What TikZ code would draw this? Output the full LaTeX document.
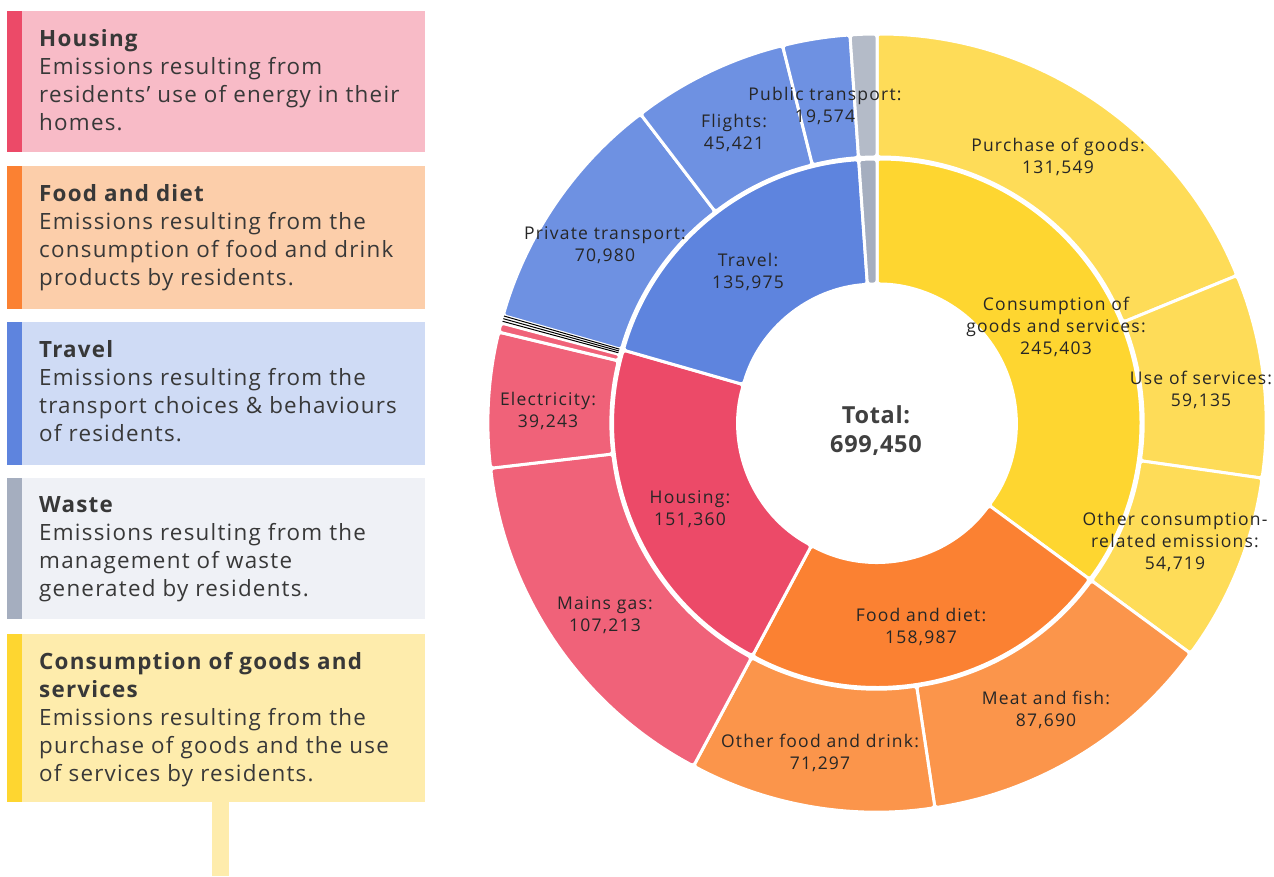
\documentclass[tikz,border=0pt]{standalone}
\usepackage{fontspec}
\setmainfont{Open Sans}[LetterSpace=5.5]
\newfontfamily\lblfont{Open Sans}[LetterSpace=7]
\newfontfamily\totfont{Open Sans}[LetterSpace=3]
\definecolor{hsgIn}{HTML}{EC4A68}\definecolor{hsgOut}{HTML}{F06279}\definecolor{hsgBg}{HTML}{F8BBC7}
\definecolor{fodIn}{HTML}{FB8132}\definecolor{fodOut}{HTML}{FB954B}\definecolor{fodBg}{HTML}{FCCEAA}
\definecolor{trvIn}{HTML}{5E84DE}\definecolor{trvOut}{HTML}{6E91E2}\definecolor{trvBg}{HTML}{CFDBF5}
\definecolor{wstIn}{HTML}{A5AEBF}\definecolor{wstOut}{HTML}{B4BBC8}\definecolor{wstBg}{HTML}{EFF1F6}
\definecolor{conIn}{HTML}{FED630}\definecolor{conOut}{HTML}{FEDC58}\definecolor{conBg}{HTML}{FEECAC}
\begin{document}
\begin{tikzpicture}[x=1pt,y=-1pt,
seg/.style={draw=white,line width=3pt,rounded corners=3pt},
lbl/.style={font=\lblfont\fontsize{17.5}{22}\selectfont,align=center,text=black!85,inner sep=0pt},
lgd/.style={anchor=north west,align=left,inner sep=0pt,font=\fontsize{22.4}{28}\selectfont,text=black!78}]
\useasboundingbox(0,0)rectangle(1274,876);
% legend
\fill[hsgBg](7,11)rectangle(425,152);\fill[hsgIn](7,11)rectangle(22,152);
\fill[fodBg](7,166)rectangle(425,309);\fill[fodIn](7,166)rectangle(22,309);
\fill[trvBg](7,322)rectangle(425,465);\fill[trvIn](7,322)rectangle(22,465);
\fill[wstBg](7,478)rectangle(425,619);\fill[wstIn](7,478)rectangle(22,619);
\fill[conBg](7,634)rectangle(425,802);\fill[conIn](7,634)rectangle(22,802);
\fill[conBg](212,802)rectangle(229,876);
\node[lgd](lhsg)at(39,29){\textbf{Housing}\\Emissions resulting from\\residents’ use of energy in their\\homes.};
\node[lgd](lfod)at(39,184){\textbf{Food and diet}\\Emissions resulting from the\\consumption of food and drink\\products by residents.};
\node[lgd](ltrv)at(39,340){\textbf{Travel}\\Emissions resulting from the\\transport choices \& behaviours\\of residents.};
\node[lgd](lwst)at(39,496){\textbf{Waste}\\Emissions resulting from the\\management of waste\\generated by residents.};
\node[lgd](lcon)at(39,652){\textbf{Consumption of goods and}\\\textbf{services}\\Emissions resulting from the\\purchase of goods and the use\\of services by residents.};
% sunburst
\begin{scope}[shift={(877,423)}]
\foreach \r/\R/\a/\b/\c in {
139/264/0/126.31/conIn,139/264/126.31/208.14/fodIn,139/264/208.14/286.04/hsgIn,
139/264/286.04/356.02/trvIn,139/264/356.02/360/wstIn,
266/389/0/67.71/conOut,266/389/67.71/98.15/conOut,266/389/98.15/126.31/conOut,
266/389/126.31/171.44/fodOut,266/389/171.44/208.14/fodOut,
266/389/208.14/263.32/hsgOut,266/389/263.32/283.52/hsgOut,266/389/283.52/284.9/hsgOut,
266/389/286.04/322.57/trvOut,266/389/322.57/345.95/trvOut,266/389/345.95/356.02/trvOut,
266/389/356.02/360/wstOut}
\fill[seg,fill=\c]({\a-90}:\R)arc[start angle=\a-90,end angle=\b-90,radius=\R]
--({\b-90}:\r)arc[start angle=\b-90,end angle=\a-90,radius=\r]--cycle;
\foreach \a in {285.2,285.6,286.0}
\draw[black,line width=1pt]({\a-90}:268)--({\a-90}:388);
\end{scope}
% labels
\node[lbl,font=\totfont\fontsize{23.5}{29}\selectfont\bfseries,text=black!75](tot)at(876,431){Total:\\699,450};
\node[lbl](pur)at(1058,157){Purchase of goods:\\131,549};
\node[lbl](cgs)at(1056,327){Consumption of\\goods and services:\\245,403};
\node[lbl](use)at(1201,390){Use of services:\\59,135};
\node[lbl](oce)at(1175,542){Other consumption-\\related emissions:\\54,719};
\node[lbl](mfi)at(1046,710){Meat and fish:\\87,690};
\node[lbl](fdd)at(921,627){Food and diet:\\158,987};
\node[lbl](ofd)at(820,753){Other food and drink:\\71,297};
\node[lbl](gas)at(605,615){Mains gas:\\107,213};
\node[lbl](hsg)at(690,509){Housing:\\151,360};
\node[lbl](ele)at(548,411){Electricity:\\39,243};
\node[lbl](prv)at(605,245){Private transport:\\70,980};
\node[lbl](trv)at(748,272){Travel:\\135,975};
\node[lbl](flt)at(734,133){Flights:\\45,421};
\node[lbl](pub)at(825,106){Public transport:\\19,574};
\end{tikzpicture}
\end{document}
